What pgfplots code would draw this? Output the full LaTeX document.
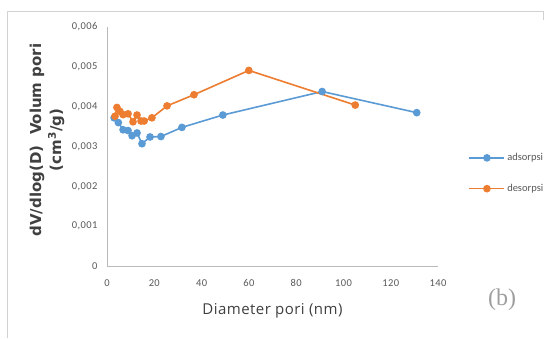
\documentclass[border=0pt]{standalone}
\usepackage{pgfplots}
\pgfplotsset{compat=1.18}
\usepackage{fontspec}
\setmainfont{Carlito}
\newfontfamily\tickfont{Carlito}[LetterSpace=4]
\newfontfamily\labfont{DejaVu Sans}
\newfontfamily\xlabfont{Open Sans}[LetterSpace=3]
\newfontfamily\serifb{Liberation Serif}
\definecolor{cblue}{HTML}{5B9BD5}
\definecolor{corange}{HTML}{ED7D31}
\definecolor{tickgray}{HTML}{595959}
\definecolor{labgray}{HTML}{404040}
\begin{document}
\begin{tikzpicture}[x=1pt,y=1pt]
\useasboundingbox (0,0) rectangle (544,338);
\fill[white] (0,0) rectangle (544,338);
\draw[gray!35,line width=0.8pt] (7,0) -- (7,327) -- (543,327) -- (543,318);
\begin{axis}[
  at={(107pt,72pt)}, anchor=south west,
  scale only axis, width=331pt, height=239pt,
  xmin=0, xmax=140, ymin=0, ymax=0.006,
  axis x line=bottom, axis y line=left,
  axis line style={-, draw=gray!55, line width=0.8pt},
  major tick length=0pt,
  xtick={0,20,...,140},
  ytick={0,0.001,0.002,0.003,0.004,0.005,0.006},
  yticklabels={{0},{0,001},{0,002},{0,003},{0,004},{0,005},{0,006}},
  scaled y ticks=false,
  /pgf/number format/assume math mode=true,
  tick label style={font=\tickfont\fontsize{10.5}{12}\selectfont, text=tickgray},
  xticklabel style={yshift=-10pt},
  yticklabel style={xshift=-6pt},
  xlabel={Diameter pori (nm)},
  xlabel style={font=\xlabfont\fontsize{15}{17}\selectfont, text=labgray, at={(axis description cs:0.5,0)}, anchor=center, yshift=-45pt},
  ylabel={},
  legend style={at={(1.092,0.48)}, anchor=north west, draw=none, fill=none,
    font=\fontsize{10.5}{12}\selectfont, text=tickgray, row sep=18pt, inner sep=0pt},
  legend cell align=left,
  legend image code/.code={\draw[mark repeat=2,mark phase=2,#1] plot coordinates {(0pt,0pt) (17.5pt,0pt) (35pt,0pt)};},
  clip=false,
]
\addplot[cblue, line width=1.6pt, mark=*, mark size=3pt, mark options={fill=cblue, draw=cblue}] coordinates {
(3.0,0.00372) (4.8,0.00360) (6.8,0.00342) (8.9,0.00340) (10.6,0.00327) (12.7,0.00334)
(14.8,0.00307) (18.2,0.00324) (22.8,0.00325) (31.7,0.00348) (49,0.00379) (91,0.00438) (131,0.00385)
};
\addlegendentry{adsorpsi}
\addplot[corange, line width=1.6pt, mark=*, mark size=3pt, mark options={fill=corange, draw=corange}] coordinates {
(3.4,0.00376) (4.2,0.00398) (5.5,0.00388) (6.8,0.00380) (8.9,0.00382) (11.0,0.00362) (12.7,0.00379)
(14.4,0.00364) (15.7,0.00364) (19.0,0.00372) (25.4,0.00402) (36.8,0.00430) (60,0.00491) (105,0.00404)
};
\addlegendentry{desorpsi}
\end{axis}
\node[rotate=90, align=center, font=\labfont\bfseries\fontsize{15}{20}\selectfont, text=labgray] at (47,198) {dV/dlog(D)\ \ Volum pori\\(cm\textsuperscript{3}/g)};
\node[font=\serifb\fontsize{24}{26}\selectfont, text=gray!75] at (502,38) {(b)};
\end{tikzpicture}
\end{document}
